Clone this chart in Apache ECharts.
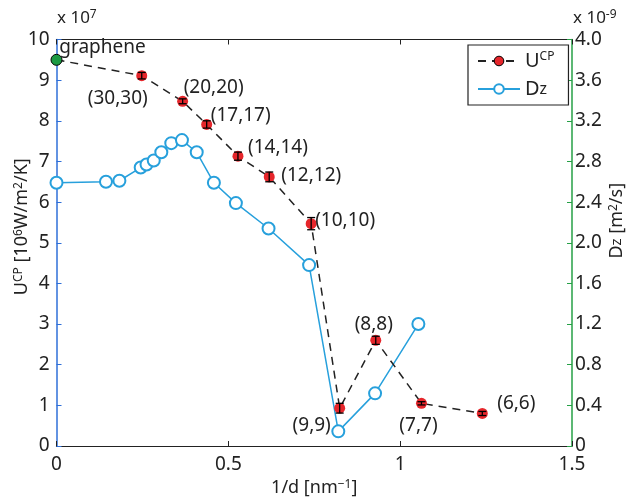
<!DOCTYPE html>
<html><head><meta charset="utf-8">
<script src="https://cdn.jsdelivr.net/npm/echarts@6/dist/echarts.min.js"></script>
<style>html,body{margin:0;padding:0;background:#fff}#c{width:630px;height:500px}</style>
</head><body><div id="c"></div>
<script>
// ---- data ----
const uX = [0, 0.248, 0.367, 0.437, 0.528, 0.619, 0.741, 0.824, 0.929, 1.062, 1.239];
const uY = [9.5, 9.11, 8.48, 7.91, 7.13, 6.62, 5.47, 0.93, 2.60, 1.05, 0.80];
const uErr = [0, 0.08, 0.06, 0.09, 0.10, 0.12, 0.15, 0.12, 0.10, 0.04, 0.05];
const uLabels = ['graphene', '(30,30)', '(20,20)', '(17,17)', '(14,14)', '(12,12)', '(10,10)', '(9,9)', '(8,8)', '(7,7)', '(6,6)'];
const dX = [0, 0.144, 0.183, 0.245, 0.262, 0.283, 0.305, 0.334, 0.365, 0.408, 0.458, 0.522, 0.617, 0.735, 0.820, 0.927, 1.053];
const dY = [2.59, 2.60, 2.61, 2.74, 2.77, 2.81, 2.89, 2.98, 3.01, 2.89, 2.59, 2.39, 2.14, 1.78, 0.144, 0.518, 1.20];
const xTickLabels = ['0', '0.5', '1', '1.5'];
const leftTickLabels = ['0','1','2','3','4','5','6','7','8','9','10'];
const rightTickLabels = ['0','0.4','0.8','1.2','1.6','2.0','2.4','2.8','3.2','3.6','4.0'];

// ---- styling (not data) ----
const labelOffsets = [[46,-12],[-24,23],[31,-14],[34,-9],[40,-9],[42,-1],[34,-3],[-28,17],[-2,-16],[-3,22],[34,-10]];
const FONT = 'Noto Sans';
const BLUE_AX = '#2f6fd8', GREEN_AX = '#26a046', DZ = '#27a0dc', RED = '#e6262b', GRAPH = '#1c9a44';
const sup = { fontSize: 12, fontFamily: FONT, verticalAlign: 'top', lineHeight: 10, padding: [0,0,7,0], color: '#222' };

const uData = uX.map((x, i) => {
  const item = { value: [x, uY[i]], label: { show: true, position: 'inside', offset: labelOffsets[i], formatter: uLabels[i] } };
  if (i === 0) item.itemStyle = { color: GRAPH, borderColor: '#000', borderWidth: 1 };
  return item;
});
const errData = uX.map((x, i) => [x, uY[i], uErr[i]]).filter(d => d[2] > 0);
const dData = dX.map((x, i) => [x, dY[i]]);

const chart = echarts.init(document.getElementById('c'), null, { renderer: 'canvas' });
chart.setOption({
  animation: false,
  textStyle: { fontFamily: FONT },
  grid: { left: 56.5, right: 58, top: 39.5, bottom: 54, containLabel: false, outerBoundsMode: 'none' },
  xAxis: [{
    type: 'value', min: 0, max: 1.5, interval: 0.5, position: 'bottom',
    name: '1/d [nm{sup|−1}]', nameLocation: 'middle', nameGap: 33, nameMoveOverlap: false,
    nameTextStyle: { fontFamily: FONT, fontSize: 18, color: '#222', rich: { sup } },
    axisLine: { show: true, onZero: false, lineStyle: { color: '#222', width: 1.2 } },
    axisTick: { show: true, inside: true, length: 5, lineStyle: { color: '#222' } },
    axisLabel: { margin: 9, fontSize: 19, color: '#222', fontFamily: FONT, formatter: (v) => xTickLabels[Math.round(v / 0.5)] },
    splitLine: { show: false }
  }, {
    type: 'value', min: 0, max: 1.5, interval: 0.5, position: 'top',
    axisLine: { show: true, onZero: false, lineStyle: { color: '#222', width: 1.2 } },
    axisTick: { show: true, inside: true, length: 5, lineStyle: { color: '#222' } },
    axisLabel: { show: false }, splitLine: { show: false }
  }],
  yAxis: [{
    type: 'value', min: 0, max: 10, interval: 1, position: 'left',
    name: 'U{sup|CP} [10{sup|6}W/m{sup|2}/K]', nameLocation: 'middle', nameGap: 26, nameRotate: 90, nameMoveOverlap: false,
    nameTextStyle: { fontFamily: FONT, fontSize: 18, color: '#222', rich: { sup }, padding: [0, 0, 0, 32] },
    axisLine: { show: true, onZero: false, lineStyle: { color: BLUE_AX, width: 1.5 } },
    axisTick: { show: true, inside: true, length: 5, lineStyle: { color: BLUE_AX } },
    axisLabel: { margin: 7, fontSize: 19, color: '#222', fontFamily: FONT, formatter: (v) => leftTickLabels[Math.round(v)] },
    splitLine: { show: false }
  }, {
    type: 'value', min: 0, max: 4, interval: 0.4, position: 'right',
    name: 'D{sub|z} [m{sup|2}/s]', nameLocation: 'middle', nameGap: 36, nameRotate: 90, nameMoveOverlap: false,
    nameTextStyle: { fontFamily: FONT, fontSize: 18, color: '#222', rich: { sup, sub: { fontSize: 15, fontFamily: FONT, color: '#222' } }, padding: [0, 0, 0, 44] },
    axisLine: { show: true, onZero: false, lineStyle: { color: GREEN_AX, width: 1.5 } },
    axisTick: { show: true, inside: true, length: 5, lineStyle: { color: GREEN_AX } },
    axisLabel: { margin: 3, fontSize: 19, color: '#222', fontFamily: FONT, formatter: (v) => rightTickLabels[Math.round(v / 0.4)] },
    splitLine: { show: false }
  }],
  legend: {
    orient: 'vertical', left: 468, top: 45,
    borderColor: '#222', borderWidth: 1.2, backgroundColor: '#fff',
    padding: [6, 14, 6, 9], itemWidth: 42, itemHeight: 12, itemGap: 8,
    textStyle: { fontFamily: FONT, fontSize: 20, color: '#222', rich: { sup, sub: { fontSize: 16, fontFamily: FONT, color: '#222' } } },
    formatter: (n) => n === 'UCP' ? 'U{sup|CP}' : 'D{sub|z}',
    data: [{ name: 'UCP', itemStyle: { color: RED, borderColor: '#000', borderWidth: 1 } }, { name: 'Dz' }]
  },
  graphic: [
    { type: 'text', left: 57, top: 9, style: { text: 'x 10{sup|7}', font: '17px "Noto Sans"', fill: '#222', rich: { sup: { fontSize: 12, fontFamily: FONT, verticalAlign: 'top', padding: [0,0,7,0] } } } },
    { type: 'text', left: 573, top: 9, style: { text: 'x 10{sup|-9}', font: '17px "Noto Sans"', fill: '#222', rich: { sup: { fontSize: 12, fontFamily: FONT, verticalAlign: 'top', padding: [0,0,7,0] } } } }
  ],
  series: [{
    name: 'Dz', type: 'line', xAxisIndex: 0, yAxisIndex: 1, data: dData,
    symbol: 'emptyCircle', symbolSize: 12, z: 2,
    lineStyle: { color: DZ, width: 1.5 }, itemStyle: { color: DZ, borderColor: DZ, borderWidth: 1.5 }
  }, {
    name: 'UCP', type: 'line', xAxisIndex: 0, yAxisIndex: 0, data: uData,
    symbol: 'circle', symbolSize: 11, z: 3,
    lineStyle: { color: '#222', width: 1.5, type: [8, 6] },
    itemStyle: { color: RED, borderWidth: 0 },
    label: { fontFamily: FONT, fontSize: 19, color: '#222' }
  }, {
    type: 'custom', xAxisIndex: 0, yAxisIndex: 0, data: errData, z: 4, silent: true,
    encode: { x: 0, y: 1 },
    renderItem: (params, api) => {
      const x = api.value(0), y = api.value(1), e = api.value(2);
      const t = api.coord([x, y + e]), b = api.coord([x, y - e]);
      const w = 4, st = { stroke: '#000', lineWidth: 1.3 };
      return { type: 'group', children: [
        { type: 'line', shape: { x1: t[0], y1: t[1], x2: b[0], y2: b[1] }, style: st },
        { type: 'line', shape: { x1: t[0] - w, y1: t[1], x2: t[0] + w, y2: t[1] }, style: st },
        { type: 'line', shape: { x1: b[0] - w, y1: b[1], x2: b[0] + w, y2: b[1] }, style: st }
      ] };
    }
  }]
});
</script></body></html>
